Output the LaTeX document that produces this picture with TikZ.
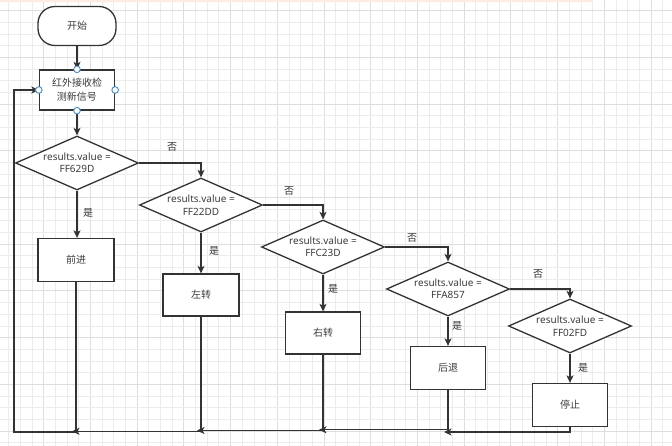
\documentclass[tikz,border=0pt]{standalone}
\usepackage{fontspec}
\setmainfont{Noto Sans}
\newfontfamily\cjk{Noto Sans CJK SC}
\usetikzlibrary{shapes.geometric,arrows.meta,calc}
\definecolor{ln}{RGB}{51,51,51}
\definecolor{tx}{RGB}{60,60,60}
\definecolor{gmin}{RGB}{236,236,236}
\definecolor{gmaj}{RGB}{222,222,222}
\definecolor{hbl}{RGB}{64,140,220}
\definecolor{peach}{RGB}{255,236,222}
\begin{document}
\begin{tikzpicture}[x=1pt,y=-1pt,
  box/.style={draw=ln,line width=1.3pt,fill=white,minimum width=76pt,minimum height=42pt,inner sep=0pt,text=tx,font=\cjk\fontsize{10}{14}\selectfont,align=center},
  term/.style={box,minimum width=78pt,minimum height=39pt,rounded corners=17pt},
  dia/.style={draw=ln,line width=1.3pt,fill=white,shape=diamond,minimum width=123pt,minimum height=54pt,inner sep=0pt},
  dtx/.style={text=tx,font=\fontsize{10}{12.5}\selectfont,align=center,inner sep=0pt},
  lbl/.style={text=ln,font=\cjk\fontsize{10}{12}\selectfont,inner sep=0pt},
  arr/.style={draw=ln,line width=1.3pt,-{Stealth[length=7.5pt,width=7pt,inset=2pt]}},
  hdl/.style={draw=hbl,fill=white,line width=0.9pt}]
\useasboundingbox (0,0) rectangle (672,446);
\fill[white] (0,0) rectangle (672,446);
% grid
\foreach \i in {0,...,57}{
  \pgfmathsetmacro\gx{8.7+11.68*\i}
  \pgfmathtruncatemacro\m{mod(\i,4)}
  \ifnum\m=3 \draw[gmaj,line width=0.9pt] (\gx,0)--(\gx,446);
  \else \draw[gmin,line width=0.9pt] (\gx,0)--(\gx,446); \fi
}
\foreach \j in {0,...,37}{
  \pgfmathsetmacro\gy{10.6+11.68*\j}
  \pgfmathtruncatemacro\m{mod(\j,4)}
  \ifnum\m=0 \draw[gmaj,line width=0.9pt] (0,\gy)--(672,\gy);
  \else \draw[gmin,line width=0.9pt] (0,\gy)--(672,\gy); \fi
}
\fill[peach] (0,0) rectangle (593,1.6);
% nodes
\node[term] (start) at (77,26) {开始};
\node[box,minimum width=75pt,minimum height=40pt] (in) at (77,90) {红外接收检\\测新信号};
\node[dia] (d1) at (77,163) {};
\node[dtx] at (d1) {results.value =\\FF629D};
\node[dia] (d2) at (201,205) {};
\node[dtx] at (d2) {results.value =\\FF22DD};
\node[dia] (d3) at (323,247) {};
\node[dtx] at (d3) {results.value =\\FFC23D};
\node[dia] (d4) at (448,289) {};
\node[dtx] at (d4) {results.value =\\FFA857};
\node[dia] (d5) at (570,326) {};
\node[dtx] at (d5) {results.value =\\FF02FD};
\node[box,minimum height=43pt] (fw) at (76,260) {前进};
\node[box] (lt) at (201,295) {左转};
\node[box,minimum width=75pt] (rt) at (323,333) {右转};
\node[box,minimum width=75pt,minimum height=43pt] (bk) at (448,368) {后退};
\node[box,minimum width=75pt,minimum height=43pt] (st) at (570,405) {停止};
% edges
\draw[arr] (start) -- (in);
\draw[arr] (in) -- (d1);
\draw[arr] (d1) -- (d1.south |- fw.north);
\draw[arr] (d1.east) -| (d2.north);
\draw[arr] (d2) -- (lt);
\draw[arr] (d2.east) -| (d3.north);
\draw[arr] (d3) -- (rt);
\draw[arr] (d3.east) -| (d4.north);
\draw[arr] (d4) -- (bk);
\draw[arr] (d4.east) -| (d5.north);
\draw[arr] (d5) -- (st);
% labels
\node[lbl] at (88,213) {是};
\node[lbl] at (214,251) {是};
\node[lbl] at (333,289) {是};
\node[lbl] at (457,326) {是};
\node[lbl] at (583,368) {是};
\node[lbl] at (172,147) {否};
\node[lbl] at (289,191) {否};
\node[lbl] at (412,238) {否};
\node[lbl] at (538,274) {否};
% return lines
\coordinate (y1) at (0,432);
\coordinate (y2) at (0,429.8);
\coordinate (y3) at (0,430.5);
\coordinate (y4) at (0,431.3);
\coordinate (lb) at (14,432);
\draw[arr] (st.south) |- ($(bk.south |- y1)+(-4,0)$);
\draw[arr] (bk.south) |- ($(rt.south |- y2)+(-4,0)$);
\draw[arr] (rt.south) |- ($(lt.south |- y3)+(-4,0)$);
\draw[arr] (lt.south) |- ($(fw.south |- y4)+(-4,0)$);
\draw[arr] (fw.south) |- (lb) |- (in.west);
% handles
\foreach \a in {north,south,east,west}
  \draw[hdl] (in.\a) circle (3.3pt);
\end{tikzpicture}
\end{document}
